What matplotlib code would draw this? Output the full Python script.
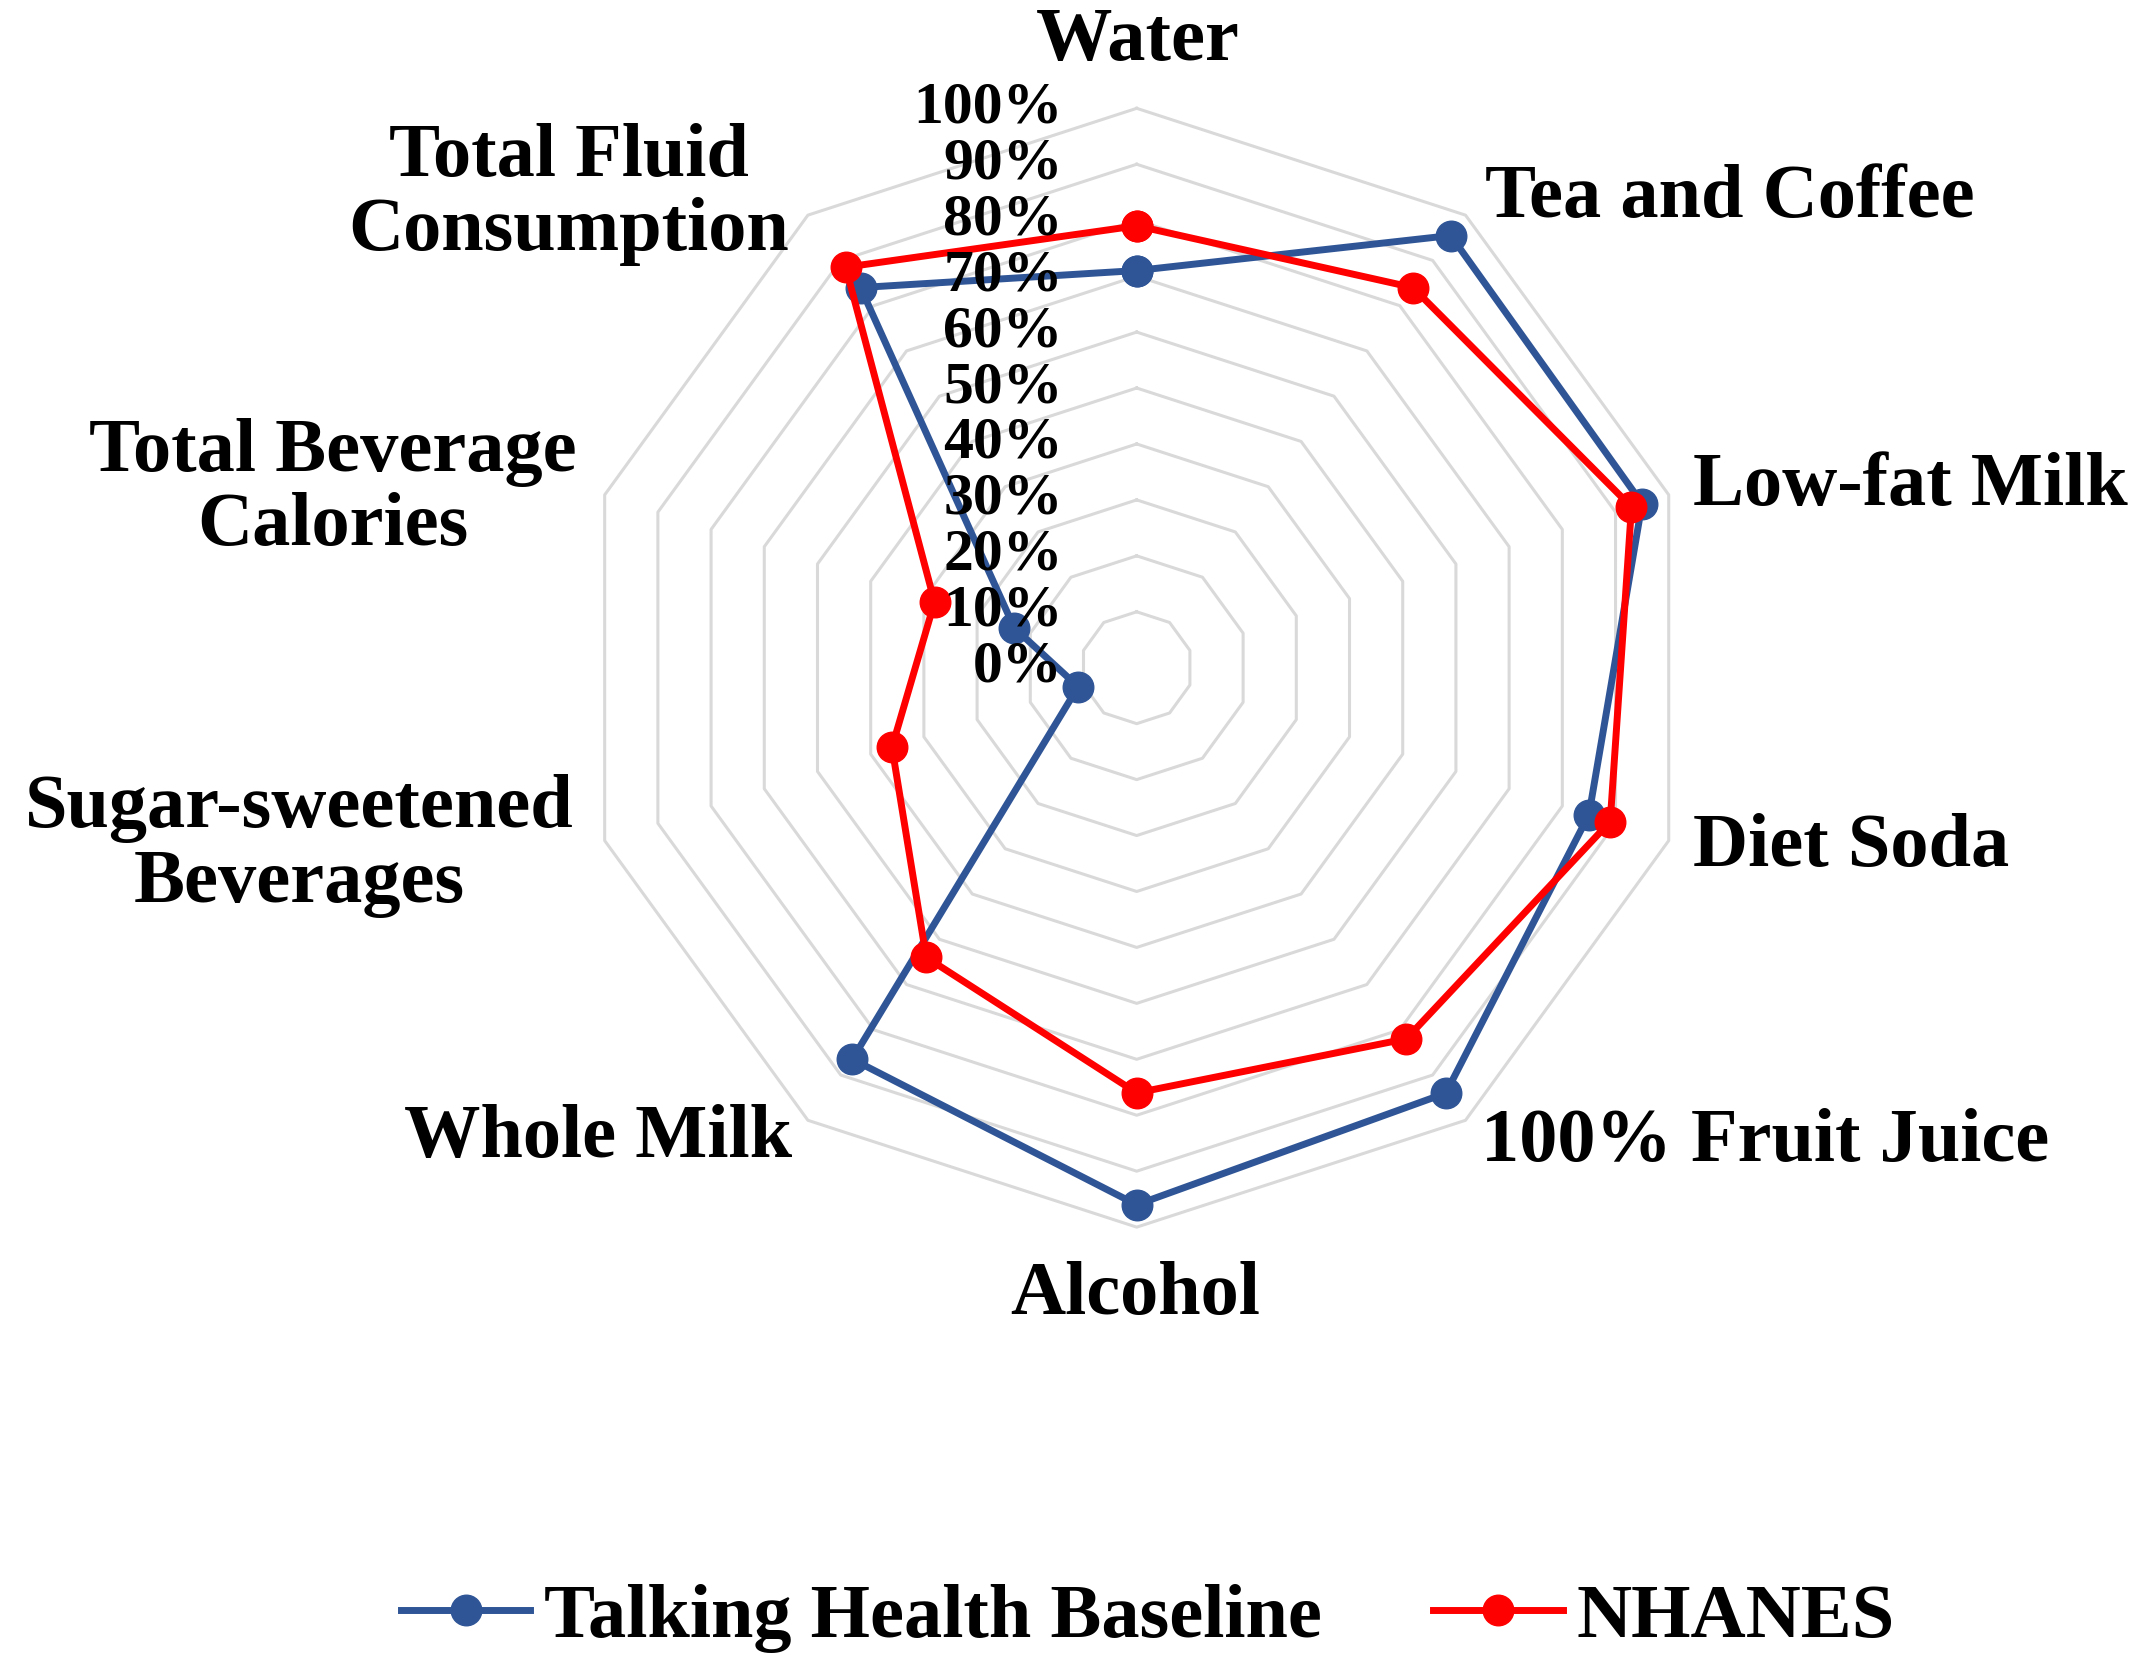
import numpy as np
import matplotlib
matplotlib.use("Agg")
import matplotlib.pyplot as plt
from matplotlib import transforms

categories = ["Water", "Tea and Coffee", "Low-fat Milk", "Diet Soda", "100% Fruit Juice",
              "Alcohol", "Whole Milk", "Sugar-sweetened\nBeverages",
              "Total Beverage\nCalories", "Total Fluid\nConsumption"]
talking_health = [0.71, 0.955, 0.95, 0.85, 0.94, 0.96, 0.865, 0.11, 0.23, 0.84]
nhanes = [0.79, 0.84, 0.93, 0.89, 0.82, 0.76, 0.64, 0.46, 0.38, 0.885]
tick_values = [0.0, 0.1, 0.2, 0.3, 0.4, 0.5, 0.6, 0.7, 0.8, 0.9, 1.0]
tick_labels = ["0%", "10%", "20%", "30%", "40%", "50%", "60%", "70%", "80%", "90%", "100%"]

plt.rcParams['font.family'] = ['Liberation Serif', 'DejaVu Serif']
plt.rcParams['font.weight'] = 'bold'

W, H = 2150, 1670
fig = plt.figure(figsize=(W / 100, H / 100), dpi=100)

# displayed-reference geometry (1568 x 1218)
DW, DH = 1568.0, 1218.0
cx, cy, R = 829.0, 487.0, 408.0
ax = fig.add_axes([(cx - R) / DW, 1 - (cy + R) / DH, 2 * R / DW, 2 * R / DH], projection='polar')
ax.set_theta_zero_location('N')
ax.set_theta_direction(-1)
ax.set_ylim(0, 1)
ax.grid(False)
ax.spines['polar'].set_visible(False)
ax.set_xticks([])
ax.set_yticks([])
ax.patch.set_alpha(0)

n = len(categories)
theta = np.linspace(0, 2 * np.pi, n, endpoint=False)
theta_c = np.append(theta, theta[0])

# decagon grid
for v in tick_values[1:]:
    ax.plot(theta_c, [v] * (n + 1), color='#D9D9D9', lw=2.2, zorder=1, clip_on=False)

blue = '#2F5597'
red = '#FF0000'
th = np.append(talking_health, talking_health[0])
nh = np.append(nhanes, nhanes[0])
ax.plot(theta_c, th, color=blue, lw=5, marker='o', ms=22, zorder=3, clip_on=False,
        label='Talking Health Baseline')
ax.plot(theta_c, nh, color=red, lw=5, marker='o', ms=22, zorder=4, clip_on=False,
        label='NHANES')

# radial tick labels
off = transforms.offset_copy(ax.transData, fig=fig, x=-74, y=0, units='dots')
for v, lab in zip(tick_values, tick_labels):
    ax.text(0, v, lab, transform=off, ha='right', va='center', fontsize=43,
            fontweight='bold', zorder=5)

# category labels (positions in displayed-reference pixels)
label_pos = [
    (830, 30, 'center'),
    (1083, 145, 'left'),
    (1235, 355, 'left'),
    (1235, 618, 'left'),
    (1080, 833, 'left'),
    (828, 945, 'center'),
    (578, 830, 'right'),
    (218, 617, 'center'),
    (243, 357, 'center'),
    (415, 142, 'center'),
]
for lab, (x, y, ha) in zip(categories, label_pos):
    fig.text(x / DW, 1 - y / DH, lab, ha=ha, va='center', fontsize=55,
             fontweight='bold', linespacing=1.1, multialignment='center')

leg = fig.legend(loc='center', bbox_to_anchor=(837 / DW, 1 - 1180 / DH), ncol=2, frameon=False,
                 handlelength=1.7, columnspacing=1.45, handletextpad=0.18,
                 borderpad=0, borderaxespad=0,
                 prop={'family': ['Liberation Serif'], 'weight': 'bold', 'size': 55})

fig.savefig('out.png', dpi=100, facecolor='white')
